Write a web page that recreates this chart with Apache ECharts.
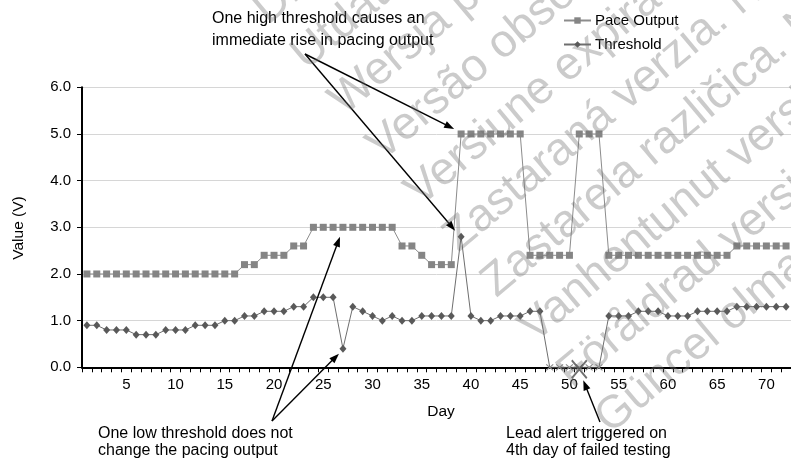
<!DOCTYPE html>
<html><head><meta charset="utf-8">
<script src="https://cdn.jsdelivr.net/npm/echarts@6/dist/echarts.min.js"></script>
<style>html,body{margin:0;padding:0;background:#fff}#c{width:791px;height:461px}</style>
</head><body><div id="c"></div>
<script>
// ---- data ----
const days = ['1','2','3','4','5','6','7','8','9','10','11','12','13','14','15','16','17','18','19','20','21','22','23','24','25','26','27','28','29','30','31','32','33','34','35','36','37','38','39','40','41','42','43','44','45','46','47','48','49','50','51','52','53','54','55','56','57','58','59','60','61','62','63','64','65','66','67','68','69','70','71','72'];
const xTickLabels = ['5','10','15','20','25','30','35','40','45','50','55','60','65','70'];
const yTickLabels = ['0.0','1.0','2.0','3.0','4.0','5.0','6.0'];
const paceOutput = [2.0,2.0,2.0,2.0,2.0,2.0,2.0,2.0,2.0,2.0,2.0,2.0,2.0,2.0,2.0,2.0,
  2.2,2.2,2.4,2.4,2.4,2.6,2.6,3.0,3.0,3.0,3.0,3.0,3.0,3.0,3.0,3.0,2.6,2.6,2.4,2.2,2.2,2.2,
  5.0,5.0,5.0,5.0,5.0,5.0,5.0,2.4,2.4,2.4,2.4,2.4,5.0,5.0,5.0,
  2.4,2.4,2.4,2.4,2.4,2.4,2.4,2.4,2.4,2.4,2.4,2.4,2.4,2.6,2.6,2.6,2.6,2.6,2.6];
const threshold = [0.9,0.9,0.8,0.8,0.8,0.7,0.7,0.7,0.8,0.8,0.8,0.9,0.9,0.9,1.0,1.0,1.1,1.1,1.2,1.2,
  1.2,1.3,1.3,1.5,1.5,1.5,0.4,1.3,1.2,1.1,1.0,1.1,1.0,1.0,1.1,1.1,1.1,1.1,2.8,1.1,
  1.0,1.0,1.1,1.1,1.1,1.2,1.2,0,0,0,0,0,0,1.1,1.1,1.1,1.2,1.2,1.2,1.1,
  1.1,1.1,1.2,1.2,1.2,1.2,1.3,1.3,1.3,1.3,1.3,1.3];
const failedDays = ['48','49','50','51','52','53'];
const alertDay = '51';
const annotations = [
  {lines:['One high threshold causes an','immediate rise in pacing output']},
  {lines:['One low threshold does not','change the pacing output']},
  {lines:['Lead alert triggered on','4th day of failed testing']}
];
const watermarkLines = [
  'Dit is een verouderde versie. Niet gebruiken.',
  'Utdatert versjon. Skal ikke brukes.',
  'Wersja przeterminowana. Nie używać.',
  'Versão obsoleta. Não utilizar.',
  'Versiune expirată. A nu se utiliza.',
  'Zastaraná verzia. Nepoužívať.',
  'Zastarela različica. Ne uporabljajte.',
  'Vanhentunut versio. Älä käytä.',
  'Föråldrad version. Använd ej.',
  'Güncel olmayan sürüm. Kullanmayın.'
];

const FONT = '"Liberation Sans", Arial, Helvetica, sans-serif';
const X_PATH = 'path://M0,0L10,10M10,0L0,10';

const thresholdData = threshold.map((v, i) => {
  if (failedDays.indexOf(days[i]) >= 0) {
    return {value: v, symbol: X_PATH, symbolSize: [7, 6],
      itemStyle: {color: 'rgba(0,0,0,0)', borderColor: '#8a8a8a', borderWidth: 1}};
  }
  return v;
});

const chart = echarts.init(document.getElementById('c'), null, {renderer: 'canvas'});
chart.setOption({
  animation: false,
  backgroundColor: '#fff',
  textStyle: {fontFamily: FONT},
  grid: {left: 82, top: 87.3, bottom: 93.7, right: -7.6, containLabel: false},
  legend: {
    orient: 'vertical', left: 558, top: 8, itemGap: 9,
    itemWidth: 27, itemHeight: 8,
    textStyle: {fontSize: 15, color: '#000', fontFamily: FONT, padding: [0,0,0,-1]},
    data: ['Pace Output', 'Threshold']
  },
  xAxis: {
    type: 'category', data: days, boundaryGap: true,
    axisLine: {show: true, lineStyle: {color: '#000', width: 2}},
    axisTick: {show: true, interval: 0, length: 5, lineStyle: {color: '#000', width: 1}},
    axisLabel: {
      interval: (idx, val) => xTickLabels.indexOf(val) >= 0,
      color: '#000', fontSize: 15, fontFamily: FONT, margin: 10
    },
    splitLine: {show: false}
  },
  yAxis: {
    type: 'value', min: 0, max: 6, interval: 1,
    axisLine: {show: true, lineStyle: {color: '#000', width: 2}},
    axisTick: {show: true, length: 5, lineStyle: {color: '#000', width: 1}},
    axisLabel: {formatter: v => yTickLabels[Math.round(v)], color: '#000', fontSize: 15, fontFamily: FONT, margin: 11},
    splitLine: {show: true, lineStyle: {color: '#d6d6d6', width: 1}}
  },
  series: [
    {
      name: 'Pace Output', type: 'line', data: paceOutput,
      symbol: 'rect', symbolSize: 7, showAllSymbol: true,
      itemStyle: {color: '#858585'},
      lineStyle: {color: '#8c8c8c', width: 1},
      z: 2
    },
    {
      name: 'Threshold', type: 'line', data: thresholdData,
      symbol: 'diamond', symbolSize: [7, 8], showAllSymbol: true,
      itemStyle: {color: '#595959'},
      lineStyle: {color: '#6e6e6e', width: 1},
      z: 3
    },
    {
      name: 'alert', type: 'scatter', data: [[alertDay, 0]],
      symbol: X_PATH, symbolSize: [15, 18], symbolOffset: [0, 2],
      itemStyle: {color: 'rgba(0,0,0,0)', borderColor: '#4d4d4d', borderWidth: 2},
      z: 5, silent: true
    }
  ]
});

function px(day, val) { return chart.convertToPixel({seriesIndex: 0}, [day, val]); }
function arrow(from, to) {
  const dx = to[0] - from[0], dy = to[1] - from[1];
  const L = Math.sqrt(dx*dx + dy*dy), ux = dx / L, uy = dy / L;
  const hl = 10, hw = 3.6;
  const bx = to[0] - ux*hl, by = to[1] - uy*hl;
  return [
    {type: 'line', shape: {x1: from[0], y1: from[1], x2: bx + ux*2, y2: by + uy*2},
      style: {stroke: '#000', lineWidth: 1.4}, z: 20, silent: true},
    {type: 'polygon', shape: {points: [[to[0], to[1]], [bx - uy*hw, by + ux*hw], [bx + uy*hw, by - ux*hw]]},
      style: {fill: '#000'}, z: 20, silent: true}
  ];
}
function txt(x, y, s, size, extra) {
  return Object.assign({type: 'text', x: x, y: y, z: 20, silent: true,
    style: {text: s, fill: '#000', font: size + 'px ' + FONT, textAlign: 'left', textVerticalAlign: 'middle'}}, extra || {});
}

const g = [];
// watermark
const wmAngle = 40 * Math.PI / 180;
watermarkLines.forEach((s, i) => {
  g.push({type: 'text', x: 374 + 38 * (i - 3), y: 152 + 45.5 * (i - 3), rotation: wmAngle, z: 30, silent: true,
    style: {text: s, fill: 'rgba(110,110,110,0.36)', font: '46px ' + FONT, textAlign: 'left', textVerticalAlign: 'middle'}});
});
// axis names
g.push({type: 'text', x: 441, y: 412, z: 20, silent: true,
  style: {text: 'Day', fill: '#000', font: '15.5px ' + FONT, textAlign: 'center', textVerticalAlign: 'middle'}});
g.push({type: 'text', x: 19, y: 228, rotation: Math.PI / 2, z: 20, silent: true,
  style: {text: 'Value (V)', fill: '#000', font: '15.5px ' + FONT, textAlign: 'center', textVerticalAlign: 'middle'}});
// annotation texts
g.push(txt(212, 19, annotations[0].lines[0], 16));
g.push(txt(212, 41, annotations[0].lines[1], 16));
g.push(txt(98, 434, annotations[1].lines[0], 16));
g.push(txt(98, 451, annotations[1].lines[1], 16));
g.push(txt(506, 434, annotations[2].lines[0], 16));
g.push(txt(506, 451, annotations[2].lines[1], 16));
// arrows pointing at data
const p39 = px('39', paceOutput[38]);
const t39 = px('39', threshold[38]);
const p27 = px('27', paceOutput[26]);
const t27 = px('27', threshold[26]);
const a51 = px(alertDay, 0);
g.push(...arrow([305, 54], [p39[0] - 7, p39[1] - 5]));
g.push(...arrow([305, 54], [t39[0] - 6, t39[1] - 6]));
g.push(...arrow([272, 421], [p27[0] - 3, p27[1] + 9.5]));
g.push(...arrow([272, 421], [t27[0] - 4, t27[1] + 5]));
g.push(...arrow([600, 422], [a51[0] + 4, a51[1] + 13]));
chart.setOption({graphic: g});
</script></body></html>
